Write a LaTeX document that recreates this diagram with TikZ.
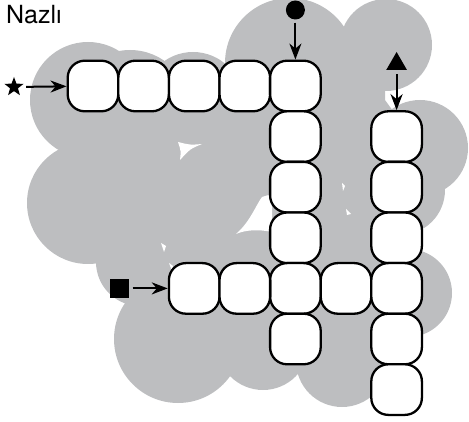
\documentclass[tikz,border=0pt]{standalone}
\usepackage{fontspec}
\setmainfont{TeX Gyre Heros}
\usetikzlibrary{shapes.geometric,arrows.meta}
\definecolor{cloud}{RGB}{189,190,192}
\tikzset{>={Stealth[length=16pt,width=12pt,inset=5pt]}}
\tikzset{cell/.style={draw,fill=white,line width=2.3pt,rounded corners=17pt,minimum width=50.6pt,minimum height=50.6pt,inner sep=0pt},
  arr/.style={line width=2pt,->}}

\begin{document}
\begin{tikzpicture}[x=1pt,y=-1pt]
   \useasboundingbox (0,0) rectangle (469,422);
   % grey cloud
   \fill[cloud] (88,100) circle[radius=58];
   \fill[cloud] (130,110) circle[radius=60];
   \fill[cloud] (193,102) circle[radius=50];
   \fill[cloud] (290,63) circle[radius=65];
   \fill[cloud] (386,45) circle[radius=46];
   \fill[cloud] (420,148) circle[radius=48];
   \fill[cloud] (400,190) circle[radius=45];
   \fill[cloud] (408,293) circle[radius=44];
   \fill[cloud] (342,361) circle[radius=46];
   \fill[cloud] (263,344) circle[radius=46];
   \fill[cloud] (178,339) circle[radius=64];
   \fill[cloud] (140,262) circle[radius=44];
   \fill[cloud] (88,203) circle[radius=61];
   \fill[cloud] (88,100) -- (130,110) -- (193,102) -- (290,63) -- (386,45) -- (385,100) -- (420,148) -- (400,190)
      -- (408,293) -- (342,361) -- (263,344) -- (178,339) -- (140,262) -- (88,203) -- cycle;
   \fill[white] (178,142) .. controls (190,145) .. (202,144) .. controls (190,149) .. (180,160) .. controls (181,151) .. (178,142);
   \fill[white] (236,234) .. controls (250,222) and (256,205) .. (262,197) -- (272,194) -- (272,232) .. controls (258,229) and (245,230) .. (236,234);
   \fill[white] (161,243) -- (166,246) -- (164,252) -- cycle;
   \fill[white] (169,263) -- (173,266) -- (172,271) -- cycle;
   \fill[white] (342,183) -- (345,186) -- (343,191) -- cycle;
   \fill[white] (346,209) -- (351,214) -- (347,215) -- cycle;

   \node[anchor=base west,inner sep=0pt,font=\fontsize{25}{30}\selectfont] (title) at (6,23.5) {Nazlı};

   \node[cell] (b00) at (93,86) {};
   \node[cell] (b10) at (143.6,86) {};
   \node[cell] (b20) at (194.2,86) {};
   \node[cell] (b30) at (244.8,86) {};
   \node[cell] (b40) at (295.4,86) {};
   \node[cell] (b41) at (295.4,136.6) {};
   \node[cell] (b42) at (295.4,187.2) {};
   \node[cell] (b43) at (295.4,237.8) {};
   \node[cell] (b44) at (295.4,288.4) {};
   \node[cell] (b45) at (295.4,339) {};
   \node[cell] (b24) at (194.2,288.4) {};
   \node[cell] (b34) at (244.8,288.4) {};
   \node[cell] (b54) at (346,288.4) {};
   \node[cell] (b61) at (396.6,136.6) {};
   \node[cell] (b62) at (396.6,187.2) {};
   \node[cell] (b63) at (396.6,237.8) {};
   \node[cell] (b64) at (396.6,288.4) {};
   \node[cell] (b65) at (396.6,339) {};
   \node[cell] (b66) at (396.6,389.6) {};

   \node[star,star points=5,star point ratio=2.4,fill=black,minimum size=20pt,inner sep=0pt] (starmark) at (14,87) {};
   \node[circle,fill=black,minimum size=19pt,inner sep=0pt] (dotmark) at (295.4,10) {};
   \node[regular polygon,regular polygon sides=3,fill=black,minimum size=24pt,inner sep=0pt] (trimark) at (396.6,64) {};
   \node[fill=black,minimum size=19pt,inner sep=0pt] (sqmark) at (119,288.4) {};

   \draw[arr,shorten <=6pt] (starmark) -- (b00);
   \draw[arr,shorten <=3pt] (dotmark) -- (b40);
   \draw[arr,shorten <=4pt] (trimark) -- (b61);
   \draw[arr,shorten <=4pt] (sqmark) -- (b24);
\end{tikzpicture}
\end{document}
